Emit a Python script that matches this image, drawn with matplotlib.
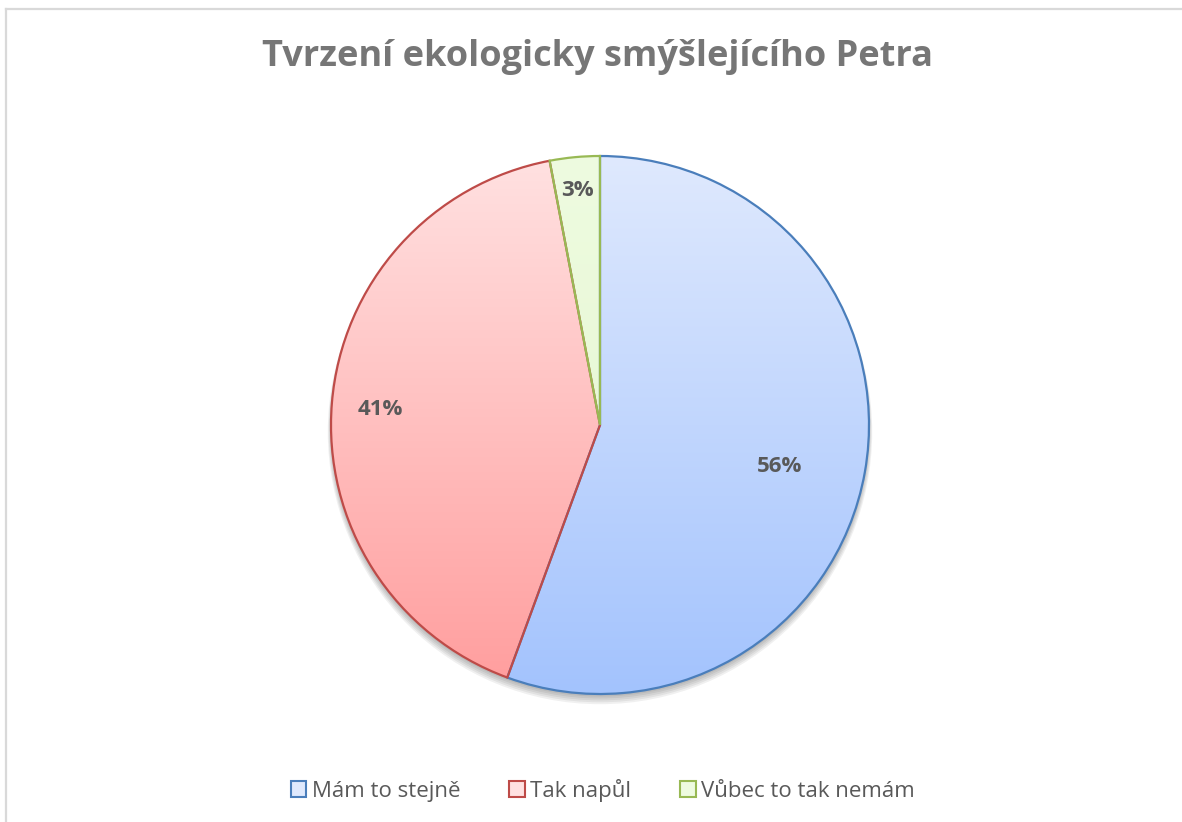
import numpy as np
import matplotlib
matplotlib.use("Agg")
import matplotlib.pyplot as plt
from matplotlib.patches import Patch, Circle, Wedge
from matplotlib.colors import LinearSegmentedColormap

# Data
categories = ["Mám to stejně", "Tak napůl", "Vůbec to tak nemám"]
values = [55.6, 41.4, 3.0]
labels = ["56%", "41%", "3%"]
title = "Tvrzení ekologicky smýšlejícího Petra"

# Styles
grad_top = ["#dfe9fd", "#ffe1e1", "#eefbe0"]
grad_bot = ["#a3c3fe", "#ff9d9d", "#e3f6cd"]
edges = ["#4a7ebb", "#be4b48", "#98b954"]
label_dist = [0.687, 0.817, 0.877]
label_rot = [-3.0, 0.6, 0.0]

W, H = 1182, 822
fig = plt.figure(figsize=(W / 100, H / 100), dpi=100)
fig.patch.set_facecolor("white")

# frame lines (left + top)
fig.add_artist(plt.Line2D([5.5 / W, 5.5 / W], [0, 1 - 9.5 / H], color="#d9d9d9", lw=1.6))
fig.add_artist(plt.Line2D([5.5 / W, 1], [1 - 9.5 / H, 1 - 9.5 / H], color="#d9d9d9", lw=1.6))

fig.text(597 / W, 1 - 57 / H, title, ha="center", va="center", fontsize=26,
         fontweight="bold", color="#767676", family="Open Sans")

cx, cy, r = 600, 425, 269
ax = fig.add_axes([(cx - r) / W, (H - cy - r) / H, 2 * r / W, 2 * r / H])
ax.set_xlim(-1, 1)
ax.set_ylim(-1, 1)
ax.set_aspect("equal")
ax.axis("off")

# shadow
for i in range(5):
    ax.add_patch(Circle((0.0, -0.010 - 0.004 * i), 1.0 + 0.003 * i, facecolor="black",
                        edgecolor="none", alpha=0.06, zorder=0, clip_on=False))

wedges, _ = ax.pie(values, startangle=90, counterclock=False, radius=1,
                   wedgeprops=dict(linewidth=1.6), normalize=True)

for i, w in enumerate(wedges):
    w.set_facecolor("none")
    w.set_edgecolor(edges[i])
    w.set_zorder(3)
    cmap = LinearSegmentedColormap.from_list("g%d" % i, [grad_bot[i], grad_top[i]])
    grad = np.linspace(0, 1, 256).reshape(-1, 1)
    im = ax.imshow(grad, extent=(-1, 1, -1, 1), origin="lower", cmap=cmap,
                   aspect="auto", zorder=2)
    fill = Wedge(w.center, w.r, w.theta1, w.theta2, transform=ax.transData)
    im.set_clip_path(fill)
    mid = np.deg2rad((w.theta1 + w.theta2) / 2 + label_rot[i])
    ax.text(label_dist[i] * np.cos(mid), label_dist[i] * np.sin(mid), labels[i],
            ha="center", va="center", fontsize=16, fontweight="bold",
            color="#595959", family="Open Sans", zorder=5)

ax.set_xlim(-1, 1)
ax.set_ylim(-1, 1)

handles = [Patch(facecolor=grad_top[i], edgecolor=edges[i], linewidth=1.5) for i in range(3)]
fig.legend(handles, categories, loc="center", bbox_to_anchor=(603 / W, 1 - 790 / H),
           ncol=3, frameon=False, handlelength=0.7, handleheight=0.7,
           handletextpad=0.25, columnspacing=2.2, labelcolor="#595959",
           prop=dict(family="Open Sans", size=16))

fig.savefig("out.png", dpi=100, facecolor="white")
